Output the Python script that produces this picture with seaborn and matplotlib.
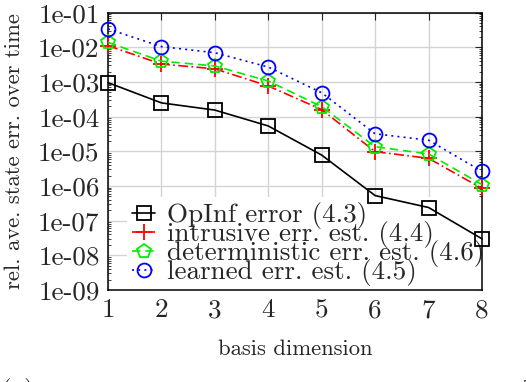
import numpy as np
import pandas as pd
import matplotlib
matplotlib.use("Agg")
import matplotlib.pyplot as plt
import matplotlib.ticker as mticker
import seaborn as sns

# values
dims = [1, 2, 3, 4, 5, 6, 7, 8]
opinf_err = [9.6e-4, 2.5e-4, 1.55e-4, 5.4e-5, 7.8e-6, 5.3e-7, 2.4e-7, 3.0e-8]
intrusive_est = [1.12e-2, 3.3e-3, 2.4e-3, 7.7e-4, 1.6e-4, 9.8e-6, 6.3e-6, 8.5e-7]
determ_est = [1.39e-2, 4.0e-3, 2.9e-3, 1.07e-3, 1.95e-4, 1.36e-5, 8.4e-6, 1.1e-6]
learned_est = [3.4e-2, 1.05e-2, 7.0e-3, 2.7e-3, 4.9e-4, 3.2e-5, 2.1e-5, 2.65e-6]

labels = ["OpInf error (4.3)", "intrusive err. est. (4.4)",
          "deterministic err. est. (4.6)", "learned err. est. (4.5)"]
ytick_vals = [1e-1, 1e-2, 1e-3, 1e-4, 1e-5, 1e-6, 1e-7, 1e-8, 1e-9]
ytick_labels = ["1e-01", "1e-02", "1e-03", "1e-04", "1e-05",
                "1e-06", "1e-07", "1e-08", "1e-09"]

sns.set_style("white")
plt.rcParams["font.family"] = ["cmr10", "DejaVu Serif"]
plt.rcParams["mathtext.fontset"] = "cm"
plt.rcParams["axes.unicode_minus"] = False
plt.rcParams["axes.formatter.use_mathtext"] = True

FS = 19.5      # tick labels / legend
LFS = 16.3     # axis labels

fig = plt.figure(figsize=(5.26, 3.82), dpi=100)
ax = fig.add_axes([0.2053, 0.2408, 0.7110, 0.7260])

# grid first so the curves sit on top
for v in ytick_vals:
    ax.axhline(v, color="#d4d4d4", lw=1.0, zorder=0)
for d in dims:
    ax.axvline(d, color="#d4d4d4", lw=1.0, zorder=0)

styles = [
    dict(color="black", marker="s", markersize=10.5, linestyle="-",
         mfc="none", mec="black", mew=1.3),
    dict(color="#ff0000", marker="+", markersize=11, linestyle=(0, (6, 2, 1, 2)),
         mfc="none", mec="#ff0000", mew=1.3),
    dict(color="#00ee00", marker="p", markersize=10, linestyle=(0, (5, 3)),
         mfc="none", mec="#00ee00", mew=1.3),
    dict(color="#0000ff", marker="o", markersize=10, linestyle=(0, (1.2, 2.5)),
         mfc="none", mec="#0000ff", mew=1.3),
]
series = [opinf_err, intrusive_est, determ_est, learned_est]

for vals, lab, st in zip(series, labels, styles):
    sns.lineplot(x=dims, y=vals, ax=ax, label=lab, lw=1.2, zorder=3,
                 clip_on=False, **st)

ax.set_yscale("log")
ax.set_xlim(1, 8)
ax.set_ylim(1e-9, 1e-1)
ax.set_xticks(dims)
ax.set_xticklabels([str(d) for d in dims])
ax.yaxis.set_major_locator(mticker.FixedLocator(ytick_vals))
ax.yaxis.set_major_formatter(mticker.FixedFormatter(ytick_labels))
ax.yaxis.set_minor_locator(mticker.LogLocator(base=10, subs=np.arange(2, 10), numticks=20))
ax.yaxis.set_minor_formatter(mticker.NullFormatter())

ax.tick_params(axis="both", which="major", direction="in", length=5, width=0.8,
               top=True, right=True, labelsize=FS, pad=6)
ax.tick_params(axis="y", which="minor", direction="in", length=2.5, width=0.6,
               left=True, right=True)
for sp in ax.spines.values():
    sp.set_linewidth(1.1)
    sp.set_color("black")

ax.set_xlabel("basis dimension", fontsize=LFS)
ax.set_ylabel("rel. ave. state err. over time", fontsize=LFS)
ax.xaxis.set_label_coords(0.5, -0.18)
ax.yaxis.set_label_coords(-0.225, 0.5)

leg = ax.legend(loc="lower left", bbox_to_anchor=(0.05, -0.005),
                borderaxespad=0, fontsize=FS, frameon=True, fancybox=False,
                framealpha=1, edgecolor="none", facecolor="white",
                handlelength=0.85, handletextpad=0.44, labelspacing=-0.3,
                borderpad=0.2)
leg.set_zorder(2)

# cropped sub-figure caption at the bottom edge
fig.text(0.0, 0.010, "(a)", fontsize=FS, va="top", ha="left")
fig.text(0.918, 0.010, r"$t \in [$", fontsize=FS, va="top", ha="left")

fig.savefig("out.png", dpi=100)
